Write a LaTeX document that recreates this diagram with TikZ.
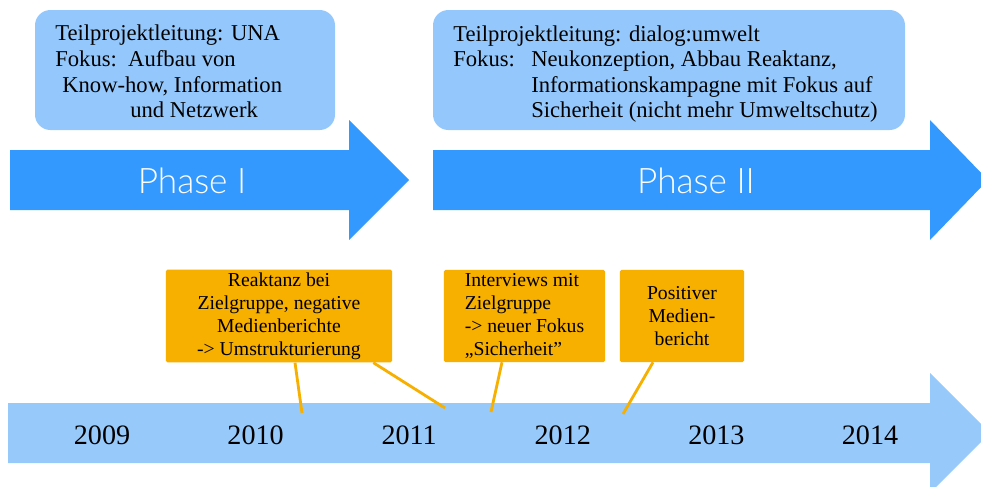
\documentclass[tikz,border=0pt]{standalone}
\usepackage{fontspec}
\setmainfont{Liberation Serif}
\newfontfamily\phasefont{Lato}[UprightFont=* Light]
\usetikzlibrary{positioning}
\definecolor{infoblue}{HTML}{94C8FC}
\definecolor{phaseblue}{HTML}{3399FF}
\definecolor{yearblue}{HTML}{97CAFB}
\definecolor{eventorange}{HTML}{F7AF00}
\tikzset{
  infobox/.style={fill=infoblue, rounded corners=11pt},
  infoline/.style={anchor=base west, inner sep=0pt, font=\fontsize{16.1}{18}\selectfont},
  phaselabel/.style={white, font=\phasefont\fontsize{25}{30}\selectfont},
  eventbox/.style={fill=eventorange, rounded corners=1pt, inner sep=2pt, minimum height=2.3cm, font=\fontsize{14}{16.4}\selectfont},
  yearlabel/.style={font=\fontsize{20}{24}\selectfont},
  eventline/.style={draw=eventorange, line width=2pt}
}
\begin{document}
\begin{tikzpicture}[x=0.025cm, y=-0.025cm]
\useasboundingbox (0,0) rectangle (981,487);
\clip (0,0) rectangle (981,487);

% phase descriptions
\path[infobox] (35,10) rectangle (335,130);
\node[infoline] (una1) at (55,40) {Teilprojektleitung: UNA};
\node[infoline] (una2) at (55,66) {Fokus:\ \ Aufbau von};
\node[infoline] (una3) at (62,92) {Know-how, Information};
\node[infoline] (una4) at (130,117) {und Netzwerk};

\path[infobox] (433,10) rectangle (905,130);
\node[infoline] (dia1) at (453,41) {Teilprojektleitung: dialog:umwelt};
\node[infoline] (dia2) at (453,66) {Fokus:};
\node[infoline] (dia3) at (531,66) {Neukonzeption, Abbau Reaktanz,};
\node[infoline] (dia4) at (531,92) {Informationskampagne mit Fokus auf};
\node[infoline] (dia5) at (531,117) {Sicherheit (nicht mehr Umweltschutz)};

% phase arrows
\path[fill=phaseblue] (10,150) -- (349,150) -- (349,120) -- (409,180) -- (349,240) -- (349,210) -- (10,210) -- cycle;
\node[phaselabel] (phase1) at (192,181) {Phase I};
\path[fill=phaseblue] (433,150) -- (930,150) -- (930,120) -- (988,180) -- (930,240) -- (930,210) -- (433,210) -- cycle;
\node[phaselabel] (phase2) at (696,181) {Phase II};

% timeline
\path[fill=yearblue] (8,403) -- (930,403) -- (930,373) -- (990,433) -- (930,493) -- (930,463) -- (8,463) -- cycle;
\foreach \yr [count=\i from 0] in {2009,...,2014}
  \node[yearlabel] (y\yr) at (102+153.6*\i,435) {\yr};

% events
\node[eventbox, minimum width=5.65cm, align=center] (reaktanz) at (279,316)
  {Reaktanz bei\\Zielgruppe, negative\\Medienberichte\\-> Umstrukturierung};
\node[eventbox, minimum width=4.025cm, align=left] (interviews) at (524.5,316)
  {Interviews mit\\Zielgruppe\\-> neuer Fokus\\„Sicherheit”};
\node[eventbox, minimum width=3.1cm, align=center] (medien) at (682,316)
  {Positiver\\Medien-\\bericht};

\coordinate (c1) at (302,413);
\coordinate (c2) at (445,408);
\coordinate (c3) at (491,412);
\coordinate (c4) at (623,414);
\draw[eventline] ([xshift=0.4cm]reaktanz.south) -- (c1);
\draw[eventline] ([xshift=-0.475cm]reaktanz.south east) -- (c2);
\draw[eventline] ([xshift=-0.5625cm]interviews.south) -- (c3);
\draw[eventline] ([xshift=-0.725cm]medien.south) -- (c4);

\end{tikzpicture}
\end{document}
